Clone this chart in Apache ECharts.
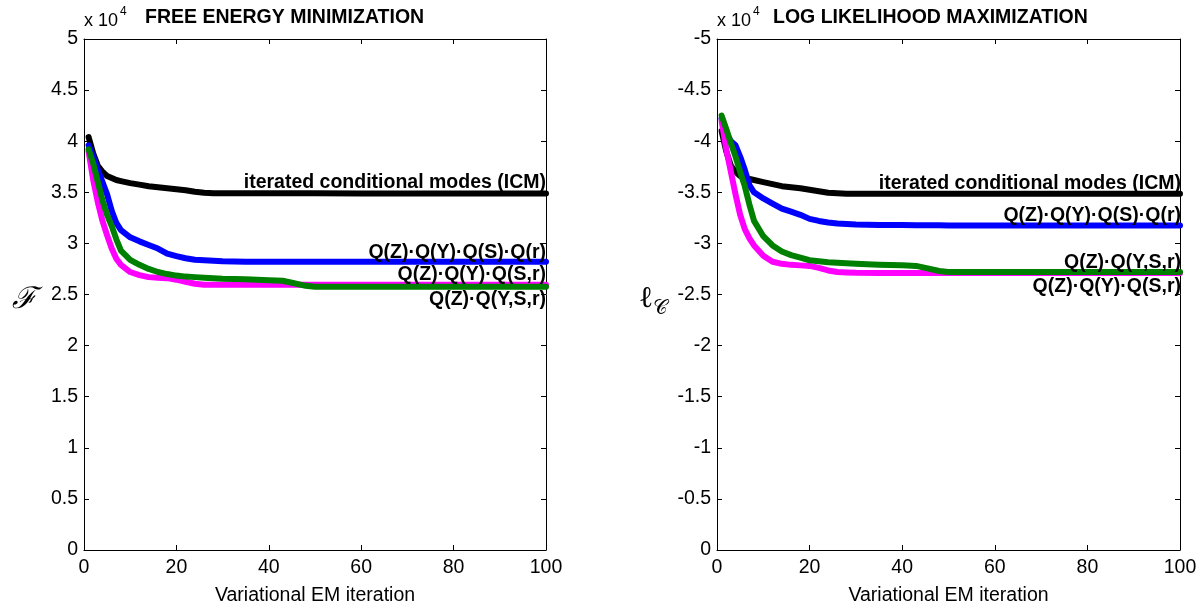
<!DOCTYPE html>
<html>
<head>
<meta charset="utf-8">
<script src="https://cdn.jsdelivr.net/npm/echarts@6/dist/echarts.min.js"></script>
<style>html,body{margin:0;padding:0;background:#fff}#c{width:1204px;height:611px}</style>
</head>
<body>
<div id="c"></div>
<script>
// ---- data (values in units of 1e4 are multiplied on use) ----
const xTicks = [0, 20, 40, 60, 80, 100];
const iterX = [1,2,3,4,5,6,7,8,10,12,14,16,18,20,22,24,26,28,30,35,40,43,45,48,50,60,70,80,90,100];

// Free energy (x 1e4)
const feICM   = [4.04,3.88,3.76,3.70,3.66,3.64,3.62,3.61,3.59,3.575,3.56,3.55,3.54,3.53,3.52,3.505,3.495,3.49,3.49,3.49,3.49,3.49,3.49,3.49,3.49,3.488,3.488,3.488,3.488,3.488];
const feQSQr  = [3.96,3.85,3.72,3.60,3.48,3.32,3.20,3.13,3.06,3.02,2.985,2.95,2.90,2.875,2.855,2.84,2.835,2.83,2.825,2.82,2.82,2.82,2.82,2.82,2.82,2.82,2.82,2.82,2.82,2.82];
const feQSr   = [3.90,3.62,3.40,3.22,3.08,2.95,2.85,2.79,2.72,2.69,2.67,2.665,2.66,2.645,2.625,2.605,2.595,2.595,2.595,2.595,2.595,2.595,2.595,2.595,2.595,2.595,2.595,2.595,2.595,2.595];
const feQYSr  = [3.92,3.78,3.60,3.42,3.28,3.17,3.04,2.93,2.84,2.79,2.75,2.72,2.70,2.685,2.675,2.67,2.665,2.66,2.655,2.65,2.64,2.635,2.615,2.585,2.575,2.575,2.575,2.575,2.575,2.575];

// Log likelihood (x 1e4)
const llICM   = [-4.10,-3.90,-3.76,-3.70,-3.66,-3.64,-3.63,-3.62,-3.60,-3.58,-3.56,-3.55,-3.54,-3.525,-3.51,-3.495,-3.49,-3.485,-3.485,-3.485,-3.485,-3.485,-3.485,-3.485,-3.485,-3.485,-3.485,-3.485,-3.485,-3.485];
const llQSQr  = [-4.22,-4.08,-4.00,-3.96,-3.85,-3.72,-3.57,-3.50,-3.44,-3.39,-3.34,-3.31,-3.28,-3.24,-3.22,-3.205,-3.195,-3.19,-3.185,-3.18,-3.18,-3.178,-3.178,-3.178,-3.175,-3.175,-3.175,-3.175,-3.175,-3.175];
const llQSr   = [-4.20,-3.92,-3.70,-3.48,-3.28,-3.14,-3.05,-2.98,-2.88,-2.82,-2.80,-2.79,-2.785,-2.78,-2.76,-2.735,-2.72,-2.715,-2.712,-2.71,-2.71,-2.71,-2.71,-2.71,-2.71,-2.71,-2.71,-2.71,-2.71,-2.71];
const llQYSr  = [-4.25,-4.12,-3.98,-3.85,-3.70,-3.56,-3.38,-3.22,-3.07,-2.98,-2.92,-2.885,-2.86,-2.835,-2.825,-2.815,-2.81,-2.805,-2.80,-2.79,-2.785,-2.78,-2.76,-2.73,-2.72,-2.72,-2.72,-2.72,-2.72,-2.72];

const seriesNames = ['iterated conditional modes (ICM)', 'Q(Z)·Q(Y)·Q(S)·Q(r)', 'Q(Z)·Q(Y)·Q(S,r)', 'Q(Z)·Q(Y,S,r)'];
const seriesColors = ['#000000', '#0000ff', '#ff00ff', '#008000'];
const SCALE = 10000;

function pairs(ys){ return iterX.map((x,i)=>[x, ys[i]*SCALE]); }
function fmtY(v){ const n = v / SCALE; return String(Math.round(n*10)/10); }

const FONT = 'Liberation Sans, Arial, Helvetica, sans-serif';
const axisLineStyle = {color:'#000', width:1};

function xAxes(gi){
  return [
    {gridIndex:gi, type:'value', min:0, max:100, interval:20, position:'bottom',
     name:'Variational EM iteration', nameLocation:'middle', nameGap:36,
     nameTextStyle:{fontFamily:FONT, fontSize:19.5, color:'#000'},
     axisLine:{show:true, onZero:false, lineStyle:axisLineStyle},
     axisTick:{show:true, inside:true, length:5, lineStyle:axisLineStyle},
     axisLabel:{fontFamily:FONT, fontSize:19.5, color:'#000', margin:8},
     splitLine:{show:false}},
    {gridIndex:gi, type:'value', min:0, max:100, interval:20, position:'top',
     axisLine:{show:true, onZero:false, lineStyle:axisLineStyle},
     axisTick:{show:true, inside:true, length:5, lineStyle:axisLineStyle},
     axisLabel:{show:false}, splitLine:{show:false}}
  ];
}
function yAxes(gi, min, max, inverse){
  return [
    {gridIndex:gi, type:'value', min:min, max:max, interval:5000, position:'left', inverse:inverse,
     axisLine:{show:true, onZero:false, lineStyle:axisLineStyle},
     axisTick:{show:true, inside:true, length:5, lineStyle:axisLineStyle},
     axisLabel:{fontFamily:FONT, fontSize:19.5, color:'#000', margin:6, formatter:fmtY},
     splitLine:{show:false}},
    {gridIndex:gi, type:'value', min:min, max:max, interval:5000, position:'right', inverse:inverse,
     axisLine:{show:true, onZero:false, lineStyle:axisLineStyle},
     axisTick:{show:true, inside:true, length:5, lineStyle:axisLineStyle},
     axisLabel:{show:false}, splitLine:{show:false}}
  ];
}

function mkSeries(xi, yi, datas){
  return datas.map((d,i)=>({
    type:'line', xAxisIndex:xi, yAxisIndex:yi, data:pairs(d), name:seriesNames[i],
    showSymbol:false, symbol:'none', smooth:false, z:2+i,
    lineStyle:{color:seriesColors[i], width:6, join:'round', cap:'round'}
  }));
}

const labelStyle = (x,y,t)=>({type:'text', x:x, y:y, style:{text:t, font:'bold 19.5px '+FONT, fill:'#000', textAlign:'right', textVerticalAlign:'middle'}, z:100});

const option = {
  animation:false,
  backgroundColor:'#fff',
  grid:[
    {left:84, top:39, width:462, height:514},
    {left:717, top:39, width:463, height:514}
  ],
  xAxis:[...xAxes(0), ...xAxes(1)],
  yAxis:[...yAxes(0, 0, 50000, false), ...yAxes(1, -50000, 0, true)],
  series:[...mkSeries(0,0,[feICM,feQSQr,feQSr,feQYSr]), ...mkSeries(2,2,[llICM,llQSQr,llQSr,llQYSr])],
  graphic:[
    {type:'text', x:145, y:18, style:{text:'FREE ENERGY MINIMIZATION', font:'bold 19.5px '+FONT, fill:'#000', textVerticalAlign:'middle'}},
    {type:'text', x:773, y:18, style:{text:'LOG LIKELIHOOD MAXIMIZATION', font:'bold 19.5px '+FONT, fill:'#000', textVerticalAlign:'middle'}},
    {type:'text', x:84, y:21, style:{text:'x 10', font:'18px '+FONT, fill:'#000', textVerticalAlign:'middle'}},
    {type:'text', x:120, y:12, style:{text:'4', font:'12px '+FONT, fill:'#000', textVerticalAlign:'middle'}},
    {type:'text', x:717, y:21, style:{text:'x 10', font:'18px '+FONT, fill:'#000', textVerticalAlign:'middle'}},
    {type:'text', x:753, y:12, style:{text:'4', font:'12px '+FONT, fill:'#000', textVerticalAlign:'middle'}},
    {type:'text', x:24, y:300, style:{text:'ℱ', font:'italic 30px DejaVu Serif, serif', fill:'#000', textAlign:'center', textVerticalAlign:'middle'}},
    {type:'text', x:646, y:299, style:{text:'ℓ', font:'30px DejaVu Serif, serif', fill:'#000', textAlign:'center', textVerticalAlign:'middle'}},
    {type:'text', x:660, y:309, style:{text:'𝒞', font:'20px DejaVu Serif, DejaVu Sans, serif', fill:'#000', textAlign:'center', textVerticalAlign:'middle'}},
    labelStyle(546,183,seriesNames[0]),
    labelStyle(546,253,seriesNames[1]),
    labelStyle(546,275,seriesNames[2]),
    labelStyle(546,300,seriesNames[3]),
    labelStyle(1181,184,seriesNames[0]),
    labelStyle(1181,216,seriesNames[1]),
    labelStyle(1181,263,seriesNames[3]),
    labelStyle(1181,287,seriesNames[2])
  ]
};
const chart = echarts.init(document.getElementById('c'), null, {renderer:'canvas'});
chart.setOption(option);
</script>
</body>
</html>
